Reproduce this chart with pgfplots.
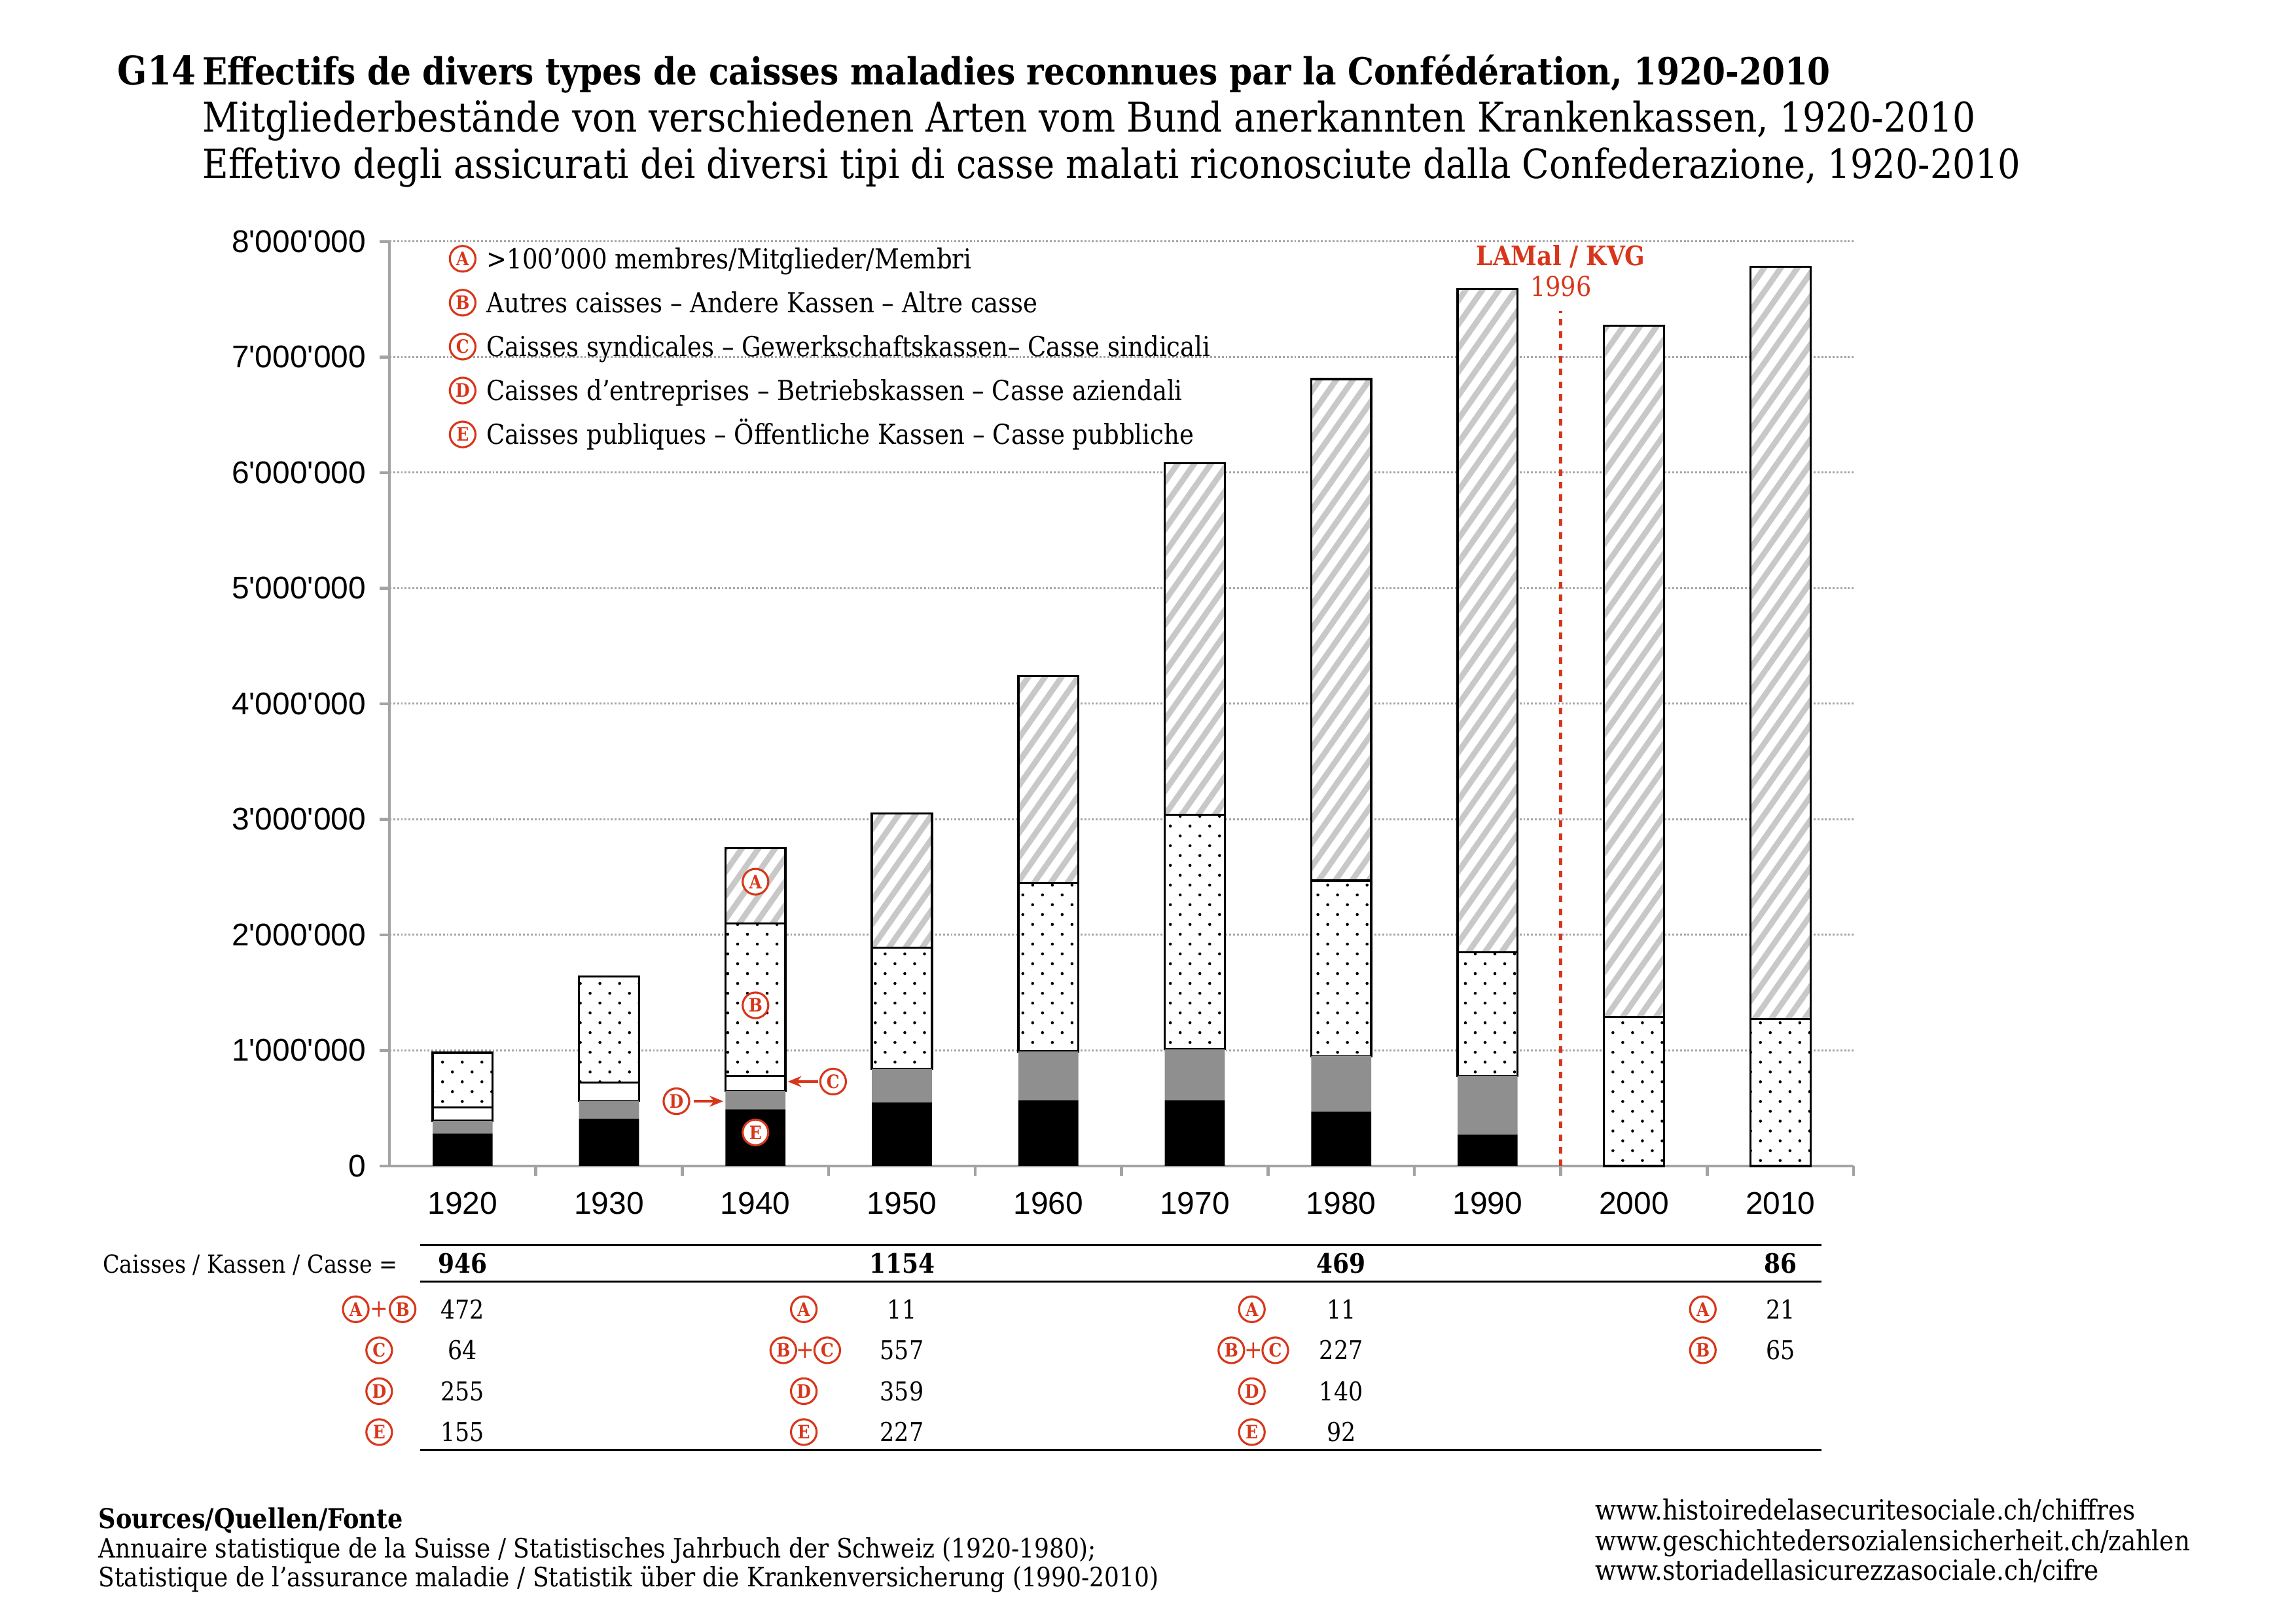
\documentclass[border=0pt]{standalone}
\usepackage{fontspec}
\setmainfont{DejaVu Serif}[FakeStretch=0.88]
\newfontfamily\sansf{Liberation Sans}
\usepackage{pgfplots}
\pgfplotsset{compat=1.18}
\usetikzlibrary{patterns.meta,arrows.meta}
\definecolor{myred}{HTML}{D8361B}
\definecolor{dgray}{HTML}{8F8F8F}
\definecolor{hgray}{HTML}{C8C8C8}
\definecolor{agray}{HTML}{A3A3A3}
\newcommand{\fs}[1]{\fontsize{#1}{#1}\selectfont}
\tikzset{
  cl/.style={circle, draw=myred, fill=white, text=myred, line width=0.75pt,
     minimum size=9.4pt, inner sep=0pt, font=\bfseries\fs{6.8}},
  lt/.style={anchor=base west, inner sep=0pt, font=\fs{10.1}},
  tv/.style={anchor=base, inner sep=0pt, font=\fs{9.5}},
  tb/.style={anchor=base, inner sep=0pt, font=\bfseries\fs{9.8}},
  pl/.style={text=myred, font=\fs{9}, inner sep=0pt},
}
\newcommand{\annot}{%
% LAMal line
\draw[myred, line width=1.1pt, dash pattern=on 2.4pt off 2.2pt] (axis cs:7.5,0) -- (axis cs:7.5,7400000);
\node[text=myred, font=\bfseries\fs{9.8}] at (axis cs:7.5,7870000) {LAMal / KVG};
\node[text=myred, font=\fs{10}] at (axis cs:7.5,7610000) {1996};
% annotations 1940
\node[cl] at (axis cs:2,2460000) {A};
\node[cl] at (axis cs:2,1390000) {B};
\node[cl] at (axis cs:2,290000) {E};
\node[cl] at (axis cs:1.46,560000) {D};
\draw[myred, line width=0.9pt, -{Stealth[length=5pt,width=4pt]}] (axis cs:1.58,560000) -- (axis cs:1.78,560000);
\node[cl] at (axis cs:2.53,730000) {C};
\draw[myred, line width=0.9pt, -{Stealth[length=5pt,width=4pt]}] (axis cs:2.43,730000) -- (axis cs:2.22,730000);
% legend
\node[cl] at (axis cs:0,7850000) {A};
\node[lt] at (axis cs:0.16,7765000) {>100’000 membres/Mitglieder/Membri};
\node[cl] at (axis cs:0,7470000) {B};
\node[lt] at (axis cs:0.16,7385000) {Autres caisses – Andere Kassen – Altre casse};
\node[cl] at (axis cs:0,7090000) {C};
\node[lt] at (axis cs:0.16,7005000) {Caisses syndicales – Gewerkschaftskassen– Casse sindicali};
\node[cl] at (axis cs:0,6710000) {D};
\node[lt] at (axis cs:0.16,6625000) {Caisses d’entreprises – Betriebskassen – Casse aziendali};
\node[cl] at (axis cs:0,6330000) {E};
\node[lt] at (axis cs:0.16,6245000) {Caisses publiques – Öffentliche Kassen – Casse pubbliche};
% title
\node[anchor=base west, inner sep=0pt, font=\bfseries\fs{14.5}] at (axis cs:-2.36,9354000) {G14};
\node[anchor=base west, inner sep=0pt, font=\bfseries\fs{13.7}] at (axis cs:-1.78,9354000) {Effectifs de divers types de caisses maladies reconnues par la Confédération, 1920-2010};
\node[anchor=base west, inner sep=0pt, font=\fs{15}] at (axis cs:-1.78,8949000) {Mitgliederbestände von verschiedenen Arten vom Bund anerkannten Krankenkassen, 1920-2010};
\node[anchor=base west, inner sep=0pt, font=\fs{14.8}] at (axis cs:-1.78,8544000) {Effetivo degli assicurati dei diversi tipi di casse malati riconosciute dalla Confederazione, 1920-2010};
% table
\draw[black, line width=0.8pt] (axis cs:-0.29,-684000) -- (axis cs:9.28,-684000);
\draw[black, line width=0.8pt] (axis cs:-0.29,-1000000) -- (axis cs:9.28,-1000000);
\draw[black, line width=0.8pt] (axis cs:-0.29,-2456000) -- (axis cs:9.28,-2456000);
\node[anchor=base east, inner sep=0pt, font=\fs{9.1}] at (axis cs:-0.44,-926000) {Caisses / Kassen / Casse =};
\node[tb] at (axis cs:0,-926000) {946};
\node[tb] at (axis cs:3,-926000) {1154};
\node[tb] at (axis cs:6,-926000) {469};
\node[tb] at (axis cs:9,-926000) {86};
% col 1920
\node[cl] at (axis cs:-0.73,-1240000) {A};
\node[pl] at (axis cs:-0.57,-1240000) {+};
\node[cl] at (axis cs:-0.41,-1240000) {B};
\node[tv] at (axis cs:0,-1322000) {472};
\node[cl] at (axis cs:-0.57,-1595000) {C};
\node[tv] at (axis cs:0,-1677000) {64};
\node[cl] at (axis cs:-0.57,-1949000) {D};
\node[tv] at (axis cs:0,-2031000) {255};
\node[cl] at (axis cs:-0.57,-2303000) {E};
\node[tv] at (axis cs:0,-2385000) {155};
% col 1950
\node[cl] at (axis cs:2.33,-1240000) {A};
\node[tv] at (axis cs:3,-1322000) {11};
\node[cl] at (axis cs:2.19,-1595000) {B};
\node[pl] at (axis cs:2.34,-1595000) {+};
\node[cl] at (axis cs:2.49,-1595000) {C};
\node[tv] at (axis cs:3,-1677000) {557};
\node[cl] at (axis cs:2.33,-1949000) {D};
\node[tv] at (axis cs:3,-2031000) {359};
\node[cl] at (axis cs:2.33,-2303000) {E};
\node[tv] at (axis cs:3,-2385000) {227};
% col 1980
\node[cl] at (axis cs:5.39,-1240000) {A};
\node[tv] at (axis cs:6,-1322000) {11};
\node[cl] at (axis cs:5.25,-1595000) {B};
\node[pl] at (axis cs:5.40,-1595000) {+};
\node[cl] at (axis cs:5.55,-1595000) {C};
\node[tv] at (axis cs:6,-1677000) {227};
\node[cl] at (axis cs:5.39,-1949000) {D};
\node[tv] at (axis cs:6,-2031000) {140};
\node[cl] at (axis cs:5.39,-2303000) {E};
\node[tv] at (axis cs:6,-2385000) {92};
% col 2010
\node[cl] at (axis cs:8.47,-1240000) {A};
\node[tv] at (axis cs:9,-1322000) {21};
\node[cl] at (axis cs:8.47,-1595000) {B};
\node[tv] at (axis cs:9,-1677000) {65};
% sources
\node[anchor=base west, inner sep=0pt, font=\bfseries\fs{10}] at (axis cs:-2.49,-3136000) {Sources/Quellen/Fonte};
\node[anchor=base west, inner sep=0pt, font=\fs{9.8}] at (axis cs:-2.49,-3389000) {Annuaire statistique de la Suisse / Statistisches Jahrbuch der Schweiz (1920-1980);};
\node[anchor=base west, inner sep=0pt, font=\fs{9.8}] at (axis cs:-2.49,-3642000) {Statistique de l’assurance maladie / Statistik über die Krankenversicherung (1990-2010)};
\node[anchor=base west, inner sep=0pt, font=\fs{10.2}] at (axis cs:7.73,-3065000) {www.histoiredelasecuritesociale.ch/chiffres};
\node[anchor=base west, inner sep=0pt, font=\fs{10.2}] at (axis cs:7.73,-3331000) {www.geschichtedersozialensicherheit.ch/zahlen};
\node[anchor=base west, inner sep=0pt, font=\fs{10.2}] at (axis cs:7.73,-3584000) {www.storiadellasicurezzasociale.ch/cifre};
}
\begin{document}
\begin{tikzpicture}
\begin{axis}[
  scale only axis, width=536.9pt, height=338.9pt,
  xmin=-0.5, xmax=9.5, ymin=0, ymax=8000000,
  ybar stacked, bar width=0.41,
  clip=false,
  axis x line*=bottom, axis y line*=left,
  axis line style={agray, line width=1.1pt},
  xtick={0.5,1.5,2.5,3.5,4.5,5.5,6.5,7.5,8.5,9.5}, xticklabels={},
  extra x ticks={0,1,2,3,4,5,6,7,8,9},
  extra x tick labels={1920,1930,1940,1950,1960,1970,1980,1990,2000,2010},
  extra x tick style={tick style={draw=none}, xticklabel style={yshift=-2.6pt}},
  ytick={0,1000000,2000000,3000000,4000000,5000000,6000000,7000000,8000000},
  scaled y ticks=false,
  yticklabel style={/pgf/number format/fixed, /pgf/number format/1000 sep={'}, xshift=-1.5pt},
  ymajorgrids,
  major grid style={agray, line width=0.7pt, dash pattern=on 0.7pt off 0.7pt},
  tick align=outside, major tick length=3.6pt,
  tick style={agray, line width=1.1pt},
  tick label style={font=\sansf\fs{11.5}},
  /pgf/number format/assume math mode=true,
  after end axis/.code={\annot},
]
% E: caisses publiques
\addplot[fill=black, draw=none] coordinates {(0,280000) (1,410000) (2,490000) (3,550000) (4,570000) (5,570000) (6,470000) (7,270000) (8,0) (9,0)};
% D: caisses d'entreprises
\addplot[fill=dgray, draw=none] coordinates {(0,110000) (1,155000) (2,160000) (3,290000) (4,420000) (5,440000) (6,480000) (7,510000) (8,0) (9,0)};
% C: caisses syndicales
\addplot[fill=white, draw=black, line width=0.8pt] coordinates {(0,115000) (1,155000) (2,130000) (3,0) (4,0) (5,0) (6,0) (7,0) (8,0) (9,0)};
% B: autres caisses
\addplot[draw=black, line width=0.8pt, preaction={fill=white}, pattern={Dots[angle=45,distance=5.1pt,radius=0.55pt]}, pattern color=black] coordinates {(0,475000) (1,920000) (2,1320000) (3,1050000) (4,1460000) (5,2030000) (6,1520000) (7,1070000) (8,1290000) (9,1270000)};
% A: >100'000 membres
\addplot[draw=black, line width=0.8pt, preaction={fill=white}, pattern={Lines[angle=55,distance=5pt,line width=2.1pt]}, pattern color=hgray] coordinates {(0,0) (1,0) (2,650000) (3,1160000) (4,1790000) (5,3040000) (6,4340000) (7,5740000) (8,5980000) (9,6510000)};
\end{axis}
\pgfresetboundingbox
\path[use as bounding box] (-142.8pt,-167.5pt) rectangle (699.1pt,427.4pt);
\end{tikzpicture}
\end{document}
